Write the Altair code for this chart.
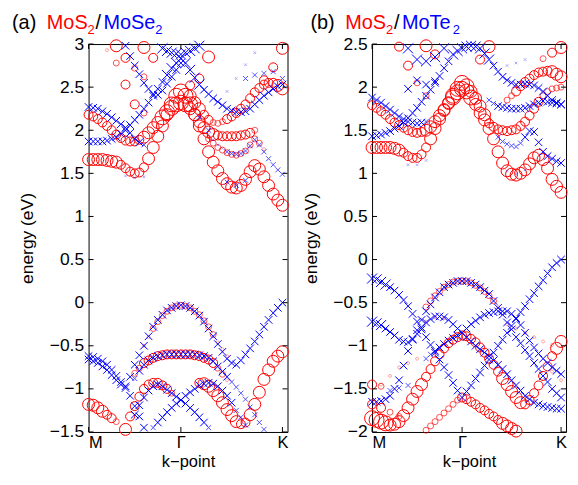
import altair as alt
import pandas as pd

# ---------------- data ----------------
K_GRID = [0.0, 0.1, 0.2, 0.3, 0.4, 0.5, 0.6, 0.7, 0.8, 0.9, 1.0,
          1.1, 1.2, 1.3, 1.4, 1.5, 1.6, 1.7, 1.8, 1.9, 2.0, 2.1]
K_FINE = [0.0, 0.05, 0.1, 0.15, 0.2, 0.25, 0.3, 0.35, 0.4, 0.45, 0.5, 0.55, 0.6, 0.65,
          0.7, 0.75, 0.8, 0.85, 0.9, 0.95, 1.0, 1.05, 1.1, 1.15, 1.2, 1.25, 1.3, 1.35,
          1.4, 1.45, 1.5, 1.55, 1.6, 1.65, 1.7, 1.75, 1.8, 1.85, 1.9, 1.95, 2.0, 2.05, 2.1]
K_TICKS = [0.0, 1.0, 2.1]
K_LABELS = ["M", "Γ", "K"]
K_MAX = 2.155

Y_TICKS_A = [-1.5, -1, -0.5, 0, 0.5, 1, 1.5, 2, 2.5, 3]
Y_TICKS_B = [-2, -1.5, -1, -0.5, 0, 0.5, 1, 1.5, 2, 2.5]

# each band: (first k, energies, projection weights); *_FINE bands use the 0.05 k grid
A_MOS2 = [
    (0.2, [2.93, 2.78, 2.53, 2.30, 2.20], [1, 2, 3, 3, 2]),
    (0.3, [2.98, 2.84, 2.72, 2.62], [4, 3, 2, 2]),
    (0.6, [2.96, 2.84], [4, 3]),
    (1.1, [2.52, 2.60, 2.85], [3, 3, 4]),
    (1.9, [2.58, 2.73, 2.95], [3, 3, 4]),
]
A_MOS2_FINE = [
    (0.0, [1.66, 1.66, 1.66, 1.66, 1.65, 1.64, 1.63, 1.60, 1.56, 1.52, 1.50, 1.51, 1.57, 1.67, 1.80, 1.93, 2.05, 2.18, 2.30, 2.40, 2.45,
           2.40, 2.30, 2.18, 2.05, 1.90, 1.75, 1.63, 1.53, 1.44, 1.38, 1.34, 1.33, 1.36, 1.43, 1.52, 1.59, 1.55, 1.46, 1.36, 1.26, 1.19, 1.13],
          [4] * 7 + [3] * 6 + [4] * 5 + [5] * 5 + [4] * 20),
    (0.0, [2.18, 2.16, 2.13, 2.09, 2.05, 2.00, 1.95, 1.91, 1.88, 1.87, 1.87, 1.89, 1.92, 1.97, 2.03, 2.09, 2.15, 2.21, 2.26, 2.30,
           2.32, 2.30, 2.25, 2.18, 2.10, 2.03, 1.98, 1.95, 1.94, 1.93, 1.93, 1.93, 1.93, 1.94, 1.95, 1.97, 2.00],
          [3] * 12 + [4] * 4 + [5] * 6 + [4] * 6 + [3] * 8 + [2]),
    (1.1, [2.40, 2.32, 2.25, 2.18, 2.12, 2.09, 2.08, 2.10, 2.13, 2.16, 2.20, 2.25, 2.30, 2.37, 2.44, 2.49, 2.53, 2.55, 2.55, 2.52, 2.48],
          [4, 4, 4, 3, 3, 2, 2, 2, 3, 3, 3, 3, 3, 3, 3, 3, 3, 3, 3, 4, 4]),
    (1.3, [1.90, 1.85, 1.80, 1.77, 1.74, 1.72, 1.71, 1.73, 1.76, 1.83, 1.90, 1.85, 1.78], [2] * 12 + [1]),
    (0.6, [-0.50, -0.40, -0.30, -0.22, -0.15, -0.10, -0.06, -0.04, -0.03, -0.04, -0.06, -0.10, -0.14, -0.21, -0.28, -0.37, -0.46, -0.54, -0.62],
          [1] * 2 + [2] * 14 + [1] * 3),
    (0.5, [-0.82, -0.76, -0.70, -0.67, -0.64, -0.62, -0.61, -0.60, -0.60, -0.60, -0.60, -0.60, -0.60, -0.61, -0.62, -0.64, -0.66, -0.70, -0.76, -0.83, -0.90],
          [2] * 2 + [3] * 16 + [2] * 2 + [1]),
    (0.4, [-1.47, -1.32, -1.20, -1.09, -1.00, -0.95, -0.93, -0.93, -0.96, -1.00, -1.05],
          [4] + [3] * 9 + [2]),
    (1.2, [-0.93, -0.94, -0.97, -1.02, -1.08, -1.16, -1.24, -1.31, -1.38, -1.41, -1.39, -1.30, -1.18, -1.04, -0.89, -0.78, -0.68, -0.62, -0.57],
          [3] + [4] * 8 + [3] * 2 + [4] * 8),
    (0.0, [-1.18, -1.19, -1.22, -1.26, -1.30, -1.34, -1.38], [4, 4, 4, 4, 3, 3, 2]),
]

A_MOSE2 = [
    (1.7, [2.60, 2.64, 2.66, 2.68, 2.60], [2, 2, 2, 2, 2]),
    (1.5, [1.40, 1.36, 1.42], [2, 2, 2]),
    (1.5, [2.45, 2.60, 2.76, 2.90], [1, 1, 1, 1]),
    (1.2, [2.15, 2.00], [2, 2]),
    (0.4, [1.47, 1.45, 1.46], [1, 1, 1]),
]
A_MOSE2_FINE = [
    (0.0, [-0.66, -0.68, -0.70, -0.74, -0.78, -0.84, -0.90, -0.95, -0.97, -0.86, -0.72, -0.61, -0.50, -0.39, -0.28, -0.20, -0.14, -0.09, -0.06, -0.04, -0.03,
           -0.04, -0.06, -0.10, -0.15, -0.22, -0.30, -0.39, -0.48, -0.57, -0.65, -0.70, -0.72, -0.67, -0.60, -0.53, -0.45, -0.37, -0.28, -0.20, -0.12, -0.06, 0.00],
          [3] * 43),
    (0.0, [-0.62, -0.63, -0.65, -0.68, -0.72, -0.78, -0.85, -0.92, -0.99, -1.08, -1.20, -1.32, -1.45], [3] * 13),
    (0.5, [-0.88, -0.79, -0.72, -0.67, -0.64, -0.62, -0.61, -0.60, -0.60, -0.60, -0.60, -0.60, -0.60, -0.60, -0.61, -0.62, -0.64, -0.68, -0.74, -0.80,
           -0.86, -0.92, -0.98, -1.05, -1.12, -1.21, -1.30, -1.39, -1.47],
          [2] + [3] * 20 + [2] * 8),
    (0.5, [-1.30, -1.19, -1.10, -1.02, -0.97, -0.95, -0.97, -1.01, -1.05, -1.09, -1.13, -1.17, -1.22, -1.27, -1.33, -1.39, -1.45],
          [3] * 16 + [2]),
    (0.7, [-1.45, -1.39, -1.33, -1.27, -1.22, -1.17, -1.13, -1.08, -1.04, -1.00, -0.96, -0.94, -0.93, -0.94, -0.97, -1.02, -1.08, -1.16, -1.25, -1.33, -1.42],
          [2] + [3] * 17 + [2] * 3),
    (0.0, [1.87, 1.87, 1.87, 1.87, 1.88, 1.90, 1.92, 1.96, 2.00, 2.06, 2.12, 2.18, 2.25, 2.32, 2.40, 2.48, 2.56, 2.64, 2.72, 2.78, 2.83,
           2.78, 2.70, 2.61, 2.53, 2.47, 2.42, 2.37, 2.33, 2.29, 2.25, 2.23, 2.21, 2.21, 2.22, 2.25, 2.30, 2.35, 2.40, 2.44, 2.48, 2.51, 2.53],
          [3] * 17 + [4] * 8 + [3] * 18),
    (0.0, [2.27, 2.26, 2.25, 2.22, 2.19, 2.15, 2.11, 2.07, 2.03, 1.97, 1.90, 1.86, 1.83], [3] * 12 + [2]),
    (0.4, [2.98, 2.86, 2.75, 2.65, 2.55, 2.48, 2.42, 2.41, 2.46, 2.54, 2.62, 2.70, 2.78], [3] * 13),
    (0.8, [2.95, 2.92, 2.90, 2.89, 2.88, 2.90, 2.92, 2.95, 2.98], [4] * 9),
    (1.3, [1.95, 1.89, 1.83, 1.79, 1.75, 1.73, 1.72, 1.73, 1.76, 1.82, 1.89, 1.83, 1.75, 1.67, 1.60, 1.54, 1.49],
          [1] * 4 + [2] * 13),
]

B_MOS2 = [
    (0.3, [2.47, 2.25, 2.05, 1.90], [3, 3, 2, 2]),
    (0.6, [2.48, 2.38], [4, 3]),
    (1.2, [2.32, 2.47], [3, 4]),
    (1.9, [2.33, 2.40, 2.46], [2, 3, 4]),
    (0.0, [-1.45, -1.47], [3, 2]),
    (0.0, [-1.68, -1.72, -1.77, -1.82], [3, 3, 2, 2]),
    (0.1, [-1.45, -1.35, -1.25, -1.20, -1.15], [1, 1, 1, 1, 1]),
    (1.5, [-0.75, -0.80, -0.85, -0.90, -0.95, -0.99], [1, 1, 1, 1, 1, 1]),
    (0.6, [-0.72, -0.67, -0.68], [1, 1, 1]),
    (2.0, [-1.30, -1.40], [1, 1]),
]
B_MOS2_FINE = [
    (0.0, [1.30, 1.30, 1.30, 1.30, 1.30, 1.29, 1.27, 1.24, 1.20, 1.18, 1.18, 1.22, 1.30, 1.40, 1.52, 1.63, 1.73, 1.81, 1.88, 1.94, 1.98,
           1.95, 1.88, 1.80, 1.70, 1.62, 1.52, 1.40, 1.25, 1.12, 1.03, 0.99, 0.98, 1.00, 1.04, 1.11, 1.18, 1.21, 1.16, 1.06, 0.93, 0.85, 0.78],
          [4] * 7 + [3] * 6 + [4] * 5 + [5] * 5 + [4] * 20),
    (0.0, [1.79, 1.76, 1.72, 1.68, 1.63, 1.59, 1.56, 1.53, 1.50, 1.48, 1.47, 1.48, 1.50, 1.54, 1.60, 1.67, 1.74, 1.82, 1.90, 1.98, 2.05,
           2.01, 1.95, 1.87, 1.78, 1.68, 1.58, 1.54, 1.51, 1.50, 1.49, 1.50, 1.51, 1.55, 1.60, 1.67, 1.75, 1.83, 1.90, 1.95, 1.98, 1.99, 2.00],
          [3] * 12 + [4] * 6 + [5] * 4 + [4] * 4 + [3] * 12 + [2] * 5),
    (1.5, [1.85, 1.90, 1.95, 2.01, 2.06, 2.10, 2.14, 2.17, 2.18, 2.19, 2.18, 2.15, 2.12], [2, 2] + [3] * 8 + [4] * 3),
    (0.6, [-0.55, -0.48, -0.42, -0.37, -0.32, -0.29, -0.26, -0.25, -0.25, -0.25, -0.27, -0.30, -0.33, -0.37, -0.42, -0.48, -0.55],
          [2] * 16 + [1]),
    (0.0, [-1.84, -1.86, -1.88, -1.90, -1.92, -1.91, -1.88, -1.81, -1.72, -1.62, -1.53, -1.45, -1.36, -1.27, -1.18, -1.10, -1.03, -0.97, -0.93, -0.90, -0.88,
           -0.89, -0.92, -0.96, -1.02, -1.08, -1.15, -1.22, -1.30, -1.38, -1.45, -1.53, -1.60, -1.66, -1.68, -1.63, -1.55, -1.46, -1.35, -1.24, -1.12, -1.03, -0.95],
          [5] * 4 + [4] * 8 + [3] * 17 + [4] * 5 + [3] * 7 + [4] * 2),
    (0.6, [-1.98, -1.93, -1.88, -1.83, -1.78, -1.73, -1.68, -1.63, -1.60, -1.62, -1.65, -1.68, -1.72, -1.75, -1.79, -1.82, -1.86, -1.90, -1.93, -1.96, -1.99],
          [2] * 8 + [3] * 9 + [4] * 4),
]

B_MOTE2 = [
    (0.2, [-1.52, -1.49, -1.46], [2, 2, 2]),
    (0.4, [1.10, 1.10, 1.15], [1, 1, 1]),
    (0.4, [2.45, 2.32, 2.30, 2.35, 2.45], [4, 4, 4, 4, 4]),
    (0.4, [1.98, 2.08, 2.03, 2.07], [3, 3, 3, 3]),
    (1.5, [2.25, 2.28, 2.32], [1, 1, 1]),
    (1.5, [1.03, 0.99, 1.04], [1, 1, 1]),
]
B_MOTE2_FINE = [
    (0.0, [-0.22, -0.23, -0.26, -0.29, -0.32, -0.36, -0.41, -0.47, -0.54, -0.63, -0.72, -0.81, -0.90, -0.99, -1.08, -1.16, -1.25, -1.34, -1.43, -1.52, -1.60,
           -1.53, -1.46, -1.38, -1.31, -1.23, -1.16, -1.08, -1.00, -0.93, -0.85, -0.77, -0.69, -0.61, -0.54, -0.46, -0.39, -0.31, -0.24, -0.16, -0.09, -0.04, 0.00],
          [4] * 4 + [3] * 39),
    (0.0, [-1.65, -1.65, -1.64, -1.62, -1.58, -1.50, -1.40, -1.23, -1.06, -0.93, -0.82, -0.70, -0.60, -0.52, -0.44, -0.38, -0.32, -0.29, -0.27, -0.25, -0.25,
           -0.25, -0.27, -0.29, -0.32, -0.36, -0.40, -0.48, -0.56, -0.64, -0.73, -0.81, -0.90, -0.97, -1.05, -1.12, -1.20, -1.27, -1.35, -1.42, -1.50, -1.55, -1.60],
          [3] * 43),
    (0.0, [-0.72, -0.74, -0.76, -0.80, -0.84, -0.88, -0.93, -0.95, -0.96, -0.92, -0.86, -0.79, -0.73, -0.69, -0.66, -0.66, -0.67, -0.70, -0.75, -0.80, -0.85,
           -0.90, -0.95, -1.00, -1.04, -1.08, -1.12, -1.17, -1.22, -1.27, -1.33, -1.40, -1.46, -1.52, -1.58, -1.62, -1.66, -1.68, -1.70, -1.71, -1.72, -1.73, -1.73],
          [4] * 3 + [3] * 40),
    (0.6, [-1.15, -1.10, -1.06, -1.02, -0.98, -0.94, -0.91, -0.88, -0.85, -0.80, -0.75, -0.71, -0.67, -0.64, -0.62, -0.61, -0.60, -0.60, -0.60, -0.63,
           -0.68, -0.76, -0.85, -0.94, -1.02, -1.09, -1.15, -1.20, -1.25, -1.29, -1.33],
          [2] * 2 + [3] * 29),
    (0.0, [1.43, 1.44, 1.45, 1.47, 1.49, 1.52, 1.55, 1.59, 1.64, 1.70, 1.76, 1.83, 1.90, 1.97, 2.05, 2.13, 2.22, 2.30, 2.38, 2.42, 2.45,
           2.47, 2.48, 2.47, 2.45, 2.39, 2.32, 2.25, 2.18, 2.12, 2.08, 2.05, 2.03, 2.03, 2.04, 2.03, 2.02, 1.99, 1.95, 1.90, 1.85, 1.82, 1.80],
          [3] * 18 + [4] * 9 + [3] * 16),
    (0.0, [1.88, 1.85, 1.82, 1.78, 1.74, 1.70, 1.66, 1.63, 1.60, 1.59, 1.58, 1.59, 1.60], [3] * 12 + [2]),
    (1.3, [1.85, 1.81, 1.78, 1.77, 1.76, 1.75, 1.75, 1.75, 1.76, 1.78, 1.80, 1.82, 1.84, 1.83, 1.82, 1.81, 1.80], [2, 2] + [3] * 15),
    (1.4, [1.42, 1.37, 1.34, 1.32, 1.31, 1.35, 1.42, 1.49, 1.48, 1.36, 1.25, 1.20, 1.17, 1.14, 1.12], [2] * 6 + [3] * 9),
]

TITLE_A = [("(a)", "black"), ("MoS", "red"), ("2", "red"), ("/", "black"), ("MoSe", "blue"), ("2", "blue")]
TITLE_B = [("(b)", "black"), ("MoS", "red"), ("2", "red"), ("/", "black"), ("MoTe", "blue"), ("2", "blue")]

# ---------------- styling ----------------
FONT = "Liberation Sans"
RED = "#ff0000"
BLUE = "#0000ff"
X_SHAPE = "M -1 -1 L 1 1 M 1 -1 L -1 1"
H = 390
TICK = 5
COLORS = {"black": "#000000", "red": RED, "blue": BLUE}


def build(coarse, fine, y_domain):
    rows = []
    for grid, bands in ((K_GRID, coarse), (K_FINE, fine)):
        for k0, energies, weights in bands:
            assert len(energies) == len(weights)
            i0 = grid.index(k0)
            for i, (e, w) in enumerate(zip(energies, weights)):
                if y_domain[0] <= e <= y_domain[1]:
                    rows.append({"k": grid[i0 + i], "E": e, "w": w})
    return pd.DataFrame(rows)


label_expr = ""
for v, lab in zip(K_TICKS, K_LABELS):
    label_expr += f"datum.value == {v} ? '{lab}' : "
label_expr += "''"


def panel(mos2, other, y_domain, y_ticks, width, title, title_x):
    xs = alt.X("k:Q", scale=alt.Scale(domain=[0, K_MAX], nice=False, zero=False),
               axis=alt.Axis(values=K_TICKS, labelExpr=label_expr, title="k−point",
                             labelFontSize=16.5, labelPadding=3, titleFontSize=16.5,
                             titleFontWeight="normal", titleX=width / 2, titleY=35,
                             titleBaseline="alphabetic", titleAlign="center"))
    ys = alt.Y("E:Q", scale=alt.Scale(domain=y_domain, nice=False, zero=False),
               axis=alt.Axis(values=y_ticks, format="~g", title="energy (eV)",
                             labelFontSize=17.5, labelPadding=5, titleFontSize=17.5,
                             titleFontWeight="normal", titleX=-56, titleY=H / 2,
                             titleAngle=-90, titleBaseline="alphabetic", titleAlign="center"))
    circles = alt.Chart(build(mos2[0], mos2[1], y_domain)).mark_point(
        shape="circle", filled=False, color=RED, strokeWidth=1
    ).encode(
        x=xs, y=ys,
        size=alt.Size("w:Q", scale=alt.Scale(type="pow", exponent=2, domain=[0, 5], range=[0, 225]), legend=None),
        opacity=alt.Opacity("w:Q", scale=alt.Scale(domain=[1, 3], range=[0.35, 1], clamp=True), legend=None),
    )
    crosses = alt.Chart(build(other[0], other[1], y_domain)).mark_point(
        shape=X_SHAPE, filled=False, color=BLUE, strokeWidth=1
    ).encode(
        x="k:Q", y="E:Q",
        size=alt.Size("w:Q", scale=alt.Scale(type="pow", exponent=2, domain=[0, 5], range=[0, 160]), legend=None),
        opacity=alt.Opacity("w:Q", scale=alt.Scale(domain=[1, 3], range=[0.35, 1], clamp=True), legend=None),
    )
    ydf = pd.DataFrame({"E": y_ticks})
    kdf = pd.DataFrame({"k": K_TICKS})
    tl = alt.Chart(ydf).mark_rule(color="black").encode(y="E:Q", x=alt.value(0), x2=alt.value(TICK))
    tr = alt.Chart(ydf).mark_rule(color="black").encode(y="E:Q", x=alt.value(width - TICK), x2=alt.value(width))
    tt = alt.Chart(kdf).mark_rule(color="black").encode(x="k:Q", y=alt.value(0), y2=alt.value(TICK))
    tb = alt.Chart(kdf).mark_rule(color="black").encode(x="k:Q", y=alt.value(H - TICK), y2=alt.value(H))
    layers = [circles, crosses, tl, tr, tt, tb]
    for (txt, col), xpos in zip(title, title_x):
        sub = txt == "2"
        layers.append(
            alt.Chart(pd.DataFrame({"t": [txt]})).mark_text(
                align="left", baseline="alphabetic", font=FONT,
                fontSize=13 if sub else 20, color=COLORS[col]
            ).encode(text="t:N", x=alt.value(xpos), y=alt.value(-10 if sub else -15))
        )
    return alt.layer(*layers).resolve_scale(size="independent").properties(width=width, height=H)


left = panel((A_MOS2, A_MOS2_FINE), (A_MOSE2, A_MOSE2_FINE), [-1.5, 3], Y_TICKS_A, 200, TITLE_A,
             [-77, -42, -1, 7, 15, 67])
right = panel((B_MOS2, B_MOS2_FINE), (B_MOTE2, B_MOTE2_FINE), [-2, 2.5], Y_TICKS_B, 195, TITLE_B,
              [-62, -27, 14, 22, 30, 81])

chart = alt.hconcat(left, right, spacing=85, bounds="flush").properties(
    padding={"left": 3, "top": 3, "right": 0, "bottom": 0}
).configure_view(stroke="black", strokeWidth=1).configure_axis(
    domain=False, ticks=False, grid=False, labelFont=FONT, titleFont=FONT,
    labelColor="black", titleColor="black"
).configure_text(font=FONT)

chart.save("out.html", embed_options={"renderer": "svg", "actions": False})
